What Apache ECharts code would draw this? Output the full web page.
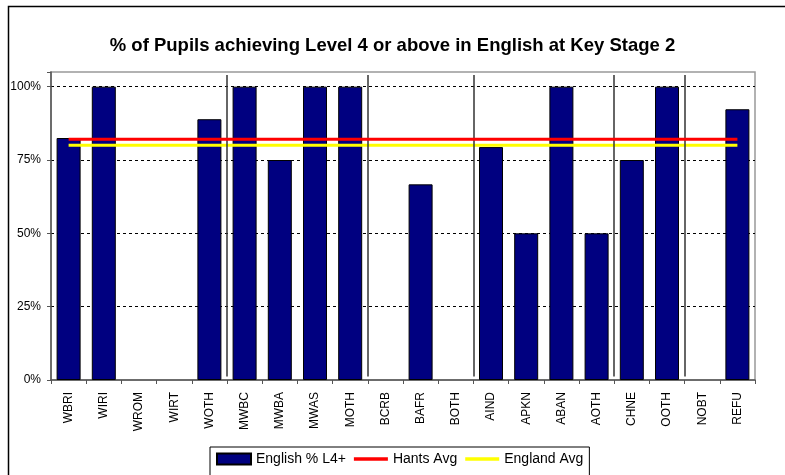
<!DOCTYPE html>
<html>
<head>
<meta charset="utf-8">
<script src="https://cdn.jsdelivr.net/npm/echarts@6/dist/echarts.min.js"></script>
<style>
  html, body { margin: 0; padding: 0; background: #fff; }
  #chart { width: 785px; height: 475px; }
</style>
</head>
<body>
<div id="chart"></div>
<script>
var categories = ['WBRI', 'WIRI', 'WROM', 'WIRT', 'WOTH', 'MWBC', 'MWBA', 'MWAS', 'MOTH', 'BCRB',
                  'BAFR', 'BOTH', 'AIND', 'APKN', 'ABAN', 'AOTH', 'CHNE', 'OOTH', 'NOBT', 'REFU'];
var englishL4 = [82.5, 100, null, null, 88.9, 100, 75, 100, 100, null,
                 66.7, null, 79.4, 50, 100, 50, 75, 100, null, 92.3];
var hantsAvg = [82.1, 82.1, 82.1, 82.1, 82.1, 82.1, 82.1, 82.1, 82.1, 82.1,
                82.1, 82.1, 82.1, 82.1, 82.1, 82.1, 82.1, 82.1, 82.1, 82.1];
var englandAvg = [80, 80, 80, 80, 80, 80, 80, 80, 80, 80,
                  80, 80, 80, 80, 80, 80, 80, 80, 80, 80];
// group boundaries (after N categories)
var groupBreaks = [5, 9, 12, 16, 18];

var chart = echarts.init(document.getElementById('chart'), null, { renderer: 'canvas' });
var font = 'Liberation Sans, Arial, sans-serif';

var option = {
    backgroundColor: '#fff',
    animation: false,
    textStyle: { fontFamily: font },
    title: {
        text: '% of Pupils achieving Level 4 or above in English at Key Stage 2',
        left: 'center',
        top: 31,
        textStyle: { fontFamily: font, fontSize: 18.5, fontWeight: 'bold', color: '#000' }
    },
    graphic: [{
        type: 'rect',
        shape: { x: 8.5, y: 6.5, width: 800, height: 500 },
        style: { fill: 'none', stroke: '#000', lineWidth: 1.5 },
        silent: true
    }],
    legend: {
        left: 210,
        top: 447,
        padding: [5, 6, 10, 6],
        itemGap: 8,
        itemWidth: 34,
        itemHeight: 11,
        borderColor: '#000',
        borderWidth: 1,
        textStyle: { fontFamily: font, fontSize: 14, color: '#000' },
        data: [
            { name: 'English % L4+', icon: 'rect' },
            { name: 'Hants Avg', icon: 'path://M0,0 L30,0 L30,3 L0,3 Z', itemStyle: { color: '#ff0000', borderWidth: 0 } },
            { name: 'England Avg', icon: 'path://M0,0 L30,0 L30,3 L0,3 Z', itemStyle: { color: '#ffff00', borderWidth: 0 } }
        ]
    },
    grid: { left: 51, right: 30, top: 72, bottom: 95, show: true, borderColor: '#999', borderWidth: 1.5, backgroundColor: '#fff' },
    xAxis: [{
        type: 'category',
        data: categories,
        axisLine: { lineStyle: { color: '#555', width: 1.5 } },
        axisTick: { show: true, length: 4, lineStyle: { color: '#555' } },
        axisLabel: { rotate: 90, fontSize: 12, color: '#000', margin: 12, fontFamily: font }
    }, {
        type: 'value',
        min: 0,
        max: 20,
        show: false
    }],
    yAxis: {
        type: 'value',
        min: 0,
        max: 105,
        interval: 25,
        axisLine: { show: true, lineStyle: { color: '#555', width: 1.5 } },
        axisTick: { show: true, length: 4, lineStyle: { color: '#555' } },
        axisLabel: {
            fontSize: 12, color: '#000', margin: 10, fontFamily: font,
            formatter: function (v) { return v > 100 ? '' : v + '%'; }
        },
        splitLine: { show: true, showMaxLine: false, showMinLine: false, lineStyle: { color: '#000', type: [3, 3], width: 1 } }
    },
    series: [{
        name: 'English % L4+',
        type: 'bar',
        data: englishL4,
        barWidth: 24,
        itemStyle: { color: '#000080', borderColor: '#000', borderWidth: 1 }
    }, {
        name: 'Hants Avg',
        type: 'line',
        data: hantsAvg,
        symbol: 'none',
        lineStyle: { color: '#ff0000', width: 3 },
        itemStyle: { color: '#ff0000' },
        z: 5
    }, {
        name: 'England Avg',
        type: 'line',
        data: englandAvg,
        symbol: 'none',
        lineStyle: { color: '#ffff00', width: 3 },
        itemStyle: { color: '#ffff00' },
        z: 4
    }, {
        name: 'groups',
        type: 'scatter',
        xAxisIndex: 1,
        data: [],
        silent: true,
        markLine: {
            silent: true,
            symbol: 'none',
            label: { show: false },
            lineStyle: { color: '#333', width: 1.5, type: 'solid' },
            data: groupBreaks.map(function (b) {
                return [{ coord: [b, 1.2] }, { coord: [b, 104] }];
            })
        }
    }]
};

chart.setOption(option);
</script>
</body>
</html>
